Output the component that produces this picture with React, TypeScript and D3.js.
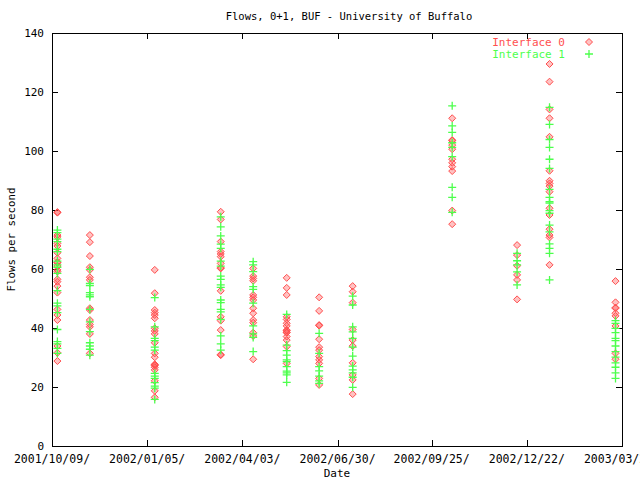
import React from "react";
import * as d3 from "d3";

const title = "Flows, 0+1, BUF - University of Buffalo";
const xLabel = "Date";
const yLabel = "Flows per second";
const seriesNames = ["Interface 0", "Interface 1"];

const domainStart = "2001-10-09";
const domainEnd = "2003-03-20";
const xTickDates = ["2001-10-09", "2002-01-05", "2002-04-03", "2002-06-30", "2002-09-25", "2002-12-22", "2003-03-20"];
const yTicks = [0, 20, 40, 60, 80, 100, 120, 140];

const sampleDates = [
  "2001-10-14", "2001-11-13", "2002-01-12", "2002-03-14", "2002-04-13", "2002-05-14",
  "2002-06-13", "2002-07-14", "2002-10-14", "2002-12-13", "2003-01-12", "2003-03-14",
];

const iface0 = [
  [79.1, 79.3, 71.5, 70.9, 68.7, 67.8, 65.5, 63.6, 62.1, 62.3, 61, 59.7, 59.1, 56.5, 55.7, 54.2, 52, 46.3, 44.4, 42.7, 33.9, 31.6, 28.8],
  [71.5, 69.1, 64.4, 60.6, 59.7, 57.2, 56.3, 46.7, 46.1, 42.7, 41.2, 40.4, 38, 31.4],
  [59.7, 51.8, 46.1, 45.2, 44.4, 43.3, 39.9, 39, 38, 35, 31.4, 30.1, 27.5, 27.3, 27.7, 26.7, 25.8, 22.1, 18.7, 16.5],
  [79.4, 76.8, 69.3, 65.9, 65.1, 64.2, 61.9, 60.2, 60.4, 52.6, 43.8, 42.5, 39.3, 30.8, 31.0],
  [60.2, 57.6, 56.8, 56, 51.2, 50.4, 49.5, 46.7, 45, 42.7, 41.8, 38.4, 37.3, 29.4],
  [57, 53.6, 51.2, 43.8, 42.9, 41.6, 40.7, 39.3, 39.1, 38.4, 38.6, 37.1, 35.9, 33.7, 28],
  [50.4, 45.8, 40.8, 41.0, 36.2, 33.5, 32.5, 30.3, 29.2, 28, 22.9, 20.7],
  [54.2, 52.3, 48.6, 39.5, 35.9, 33.9, 28.2, 24.1, 22.4, 17.6],
  [111.1, 103.5, 103.7, 102, 100.6, 97.2, 96, 94.7, 93.2, 79.8, 75.2],
  [68.1, 64.7, 61.1, 58, 56.3, 49.7],
  [129.5, 123.5, 114.1, 111.1, 104.8, 93.3, 89.9, 89, 88.1, 86.2, 80.6, 78.3, 73.5, 71.5, 70.7, 61.4],
  [55.9, 48.7, 46.7, 46.9, 45, 44.1, 40.7, 31.4, 29.4],
];

const iface1 = [
  [73.2, 72.3, 70.1, 69.3, 66.7, 65.9, 62.7, 61.4, 60.6, 58.5, 52.7, 48.4, 47.5, 45.2, 39.5, 35.4, 34.6, 33.1, 31.4],
  [59.9, 55.1, 54.4, 52, 51.2, 50.6, 46.3, 42.1, 38.8, 35, 33.9, 32.8, 30.8],
  [50.3, 40.4, 36.5, 35.7, 33.5, 32.5, 24.6, 23.7, 22.9, 21.5, 20.3, 19.6, 15.8],
  [77.7, 74.3, 71.2, 68.4, 67, 62.7, 61, 57.6, 56.5, 54.6, 53.8, 49.5, 48.6, 46.3, 45.5, 42.9, 37.3, 34.6, 32.5],
  [62.5, 61.4, 59.1, 54, 53.1, 48.4, 40.7, 38, 36.8, 32],
  [44.6, 34.2, 32.3, 30.8, 29.2, 28.6, 26.9, 25.4, 24.8, 24.1, 21.6],
  [38.2, 31.4, 26.9, 25.5, 23.7, 22.1, 21.2],
  [50.8, 47.8, 40.4, 38.7, 36.5, 33.5, 30.5, 27.1, 25.8, 24.8, 23.3, 19.9],
  [115.3, 108.5, 106.3, 102.8, 101.2, 98.1, 87.7, 84.3, 79.2],
  [65.3, 62.8, 61.4, 59, 54.6],
  [114.8, 109, 103.9, 101.2, 97.2, 94.1, 87, 84.3, 82.8, 82.3, 79.8, 78.9, 74.9, 72.6, 68.5, 67, 65.3, 56.3],
  [42.5, 41.6, 39.9, 38.4, 36.5, 35.7, 33.9, 32, 30.1, 28.2, 26.7, 24.8, 22.9],
];

const W = 640;
const H = 480;
const M = { left: 52, right: 622, top: 33, bottom: 446 };
const RED = "#ff4f4f";
const GREEN = "#4cff4c";
const FONT = "'DejaVu Sans Mono', monospace";

const parse = (s: string) => {
  const [y, m, d] = s.split("-").map(Number);
  return new Date(Date.UTC(y, m - 1, d));
};

function Diamond({ x, y }: { x: number; y: number }) {
  const r = 3.5;
  return (
    <path
      d={`M${x},${y - r}L${x + r},${y}L${x},${y + r}L${x - r},${y}Z`}
      fill={RED}
      fillOpacity={0.35}
      stroke={RED}
      strokeWidth={1}
    />
  );
}

function Plus({ x, y }: { x: number; y: number }) {
  const r = 4;
  return (
    <path
      d={`M${x - r},${y}H${x + r}M${x},${y - r}V${y + r}`}
      fill="none"
      stroke={GREEN}
      strokeWidth={1.3}
    />
  );
}

export default function App() {
  const start = parse(domainStart);
  const end = parse(domainEnd);
  const x = d3.scaleUtc().domain([start, end]).range([M.left, M.right]);
  const y = d3.scaleLinear().domain([0, 140]).range([M.bottom, M.top]);
  const fmt = d3.utcFormat("%Y/%m/%d/");
  const xTicks = xTickDates.map(parse);
  const tl = 6;

  return (
    <svg width={W} height={H} style={{ position: "absolute", left: 0, top: 0, background: "#fff" }}>
      <rect x={0} y={0} width={W} height={H} fill="#fff" />
      <g fontFamily={FONT} fill="#000">
        <text x={349} y={20} textAnchor="middle" fontSize={10.5}>{title}</text>
        <text x={337} y={477} textAnchor="middle" fontSize={11}>{xLabel}</text>
        <text transform={`translate(15,${(M.top + M.bottom) / 2}) rotate(-90)`} textAnchor="middle" fontSize={10.8}>{yLabel}</text>
        {yTicks.map((t) => (
          <text key={t} x={44} y={y(t) + 3.5} textAnchor="end" fontSize={11}>{t}</text>
        ))}
        {xTicks.map((t, i) => (
          <text key={i} x={x(t)} y={463} textAnchor="middle" fontSize={11.5}>{fmt(t)}</text>
        ))}
      </g>
      <g stroke="#000" strokeWidth={1} shapeRendering="crispEdges">
        <rect x={M.left} y={M.top} width={M.right - M.left} height={M.bottom - M.top} fill="none" />
        {yTicks.map((t) => (
          <g key={t}>
            <line x1={M.left} x2={M.left + tl} y1={Math.round(y(t))} y2={Math.round(y(t))} />
            <line x1={M.right - tl} x2={M.right} y1={Math.round(y(t))} y2={Math.round(y(t))} />
          </g>
        ))}
        {xTicks.map((t, i) => (
          <g key={i}>
            <line x1={Math.round(x(t))} x2={Math.round(x(t))} y1={M.bottom} y2={M.bottom - tl} />
            <line x1={Math.round(x(t))} x2={Math.round(x(t))} y1={M.top} y2={M.top + tl} />
          </g>
        ))}
      </g>
      <g>
        {sampleDates.map((d, i) =>
          iface0[i].map((v, j) => <Diamond key={`a${i}-${j}`} x={x(parse(d))} y={y(v)} />)
        )}
        {sampleDates.map((d, i) =>
          iface1[i].map((v, j) => <Plus key={`b${i}-${j}`} x={x(parse(d))} y={y(v)} />)
        )}
      </g>
      <g fontFamily={FONT} fontSize={11}>
        <text x={565} y={45.5} textAnchor="end" fill={RED}>{seriesNames[0]}</text>
        <Diamond x={589} y={42} />
        <text x={565} y={57.5} textAnchor="end" fill={GREEN}>{seriesNames[1]}</text>
        <Plus x={589} y={54} />
      </g>
    </svg>
  );
}
